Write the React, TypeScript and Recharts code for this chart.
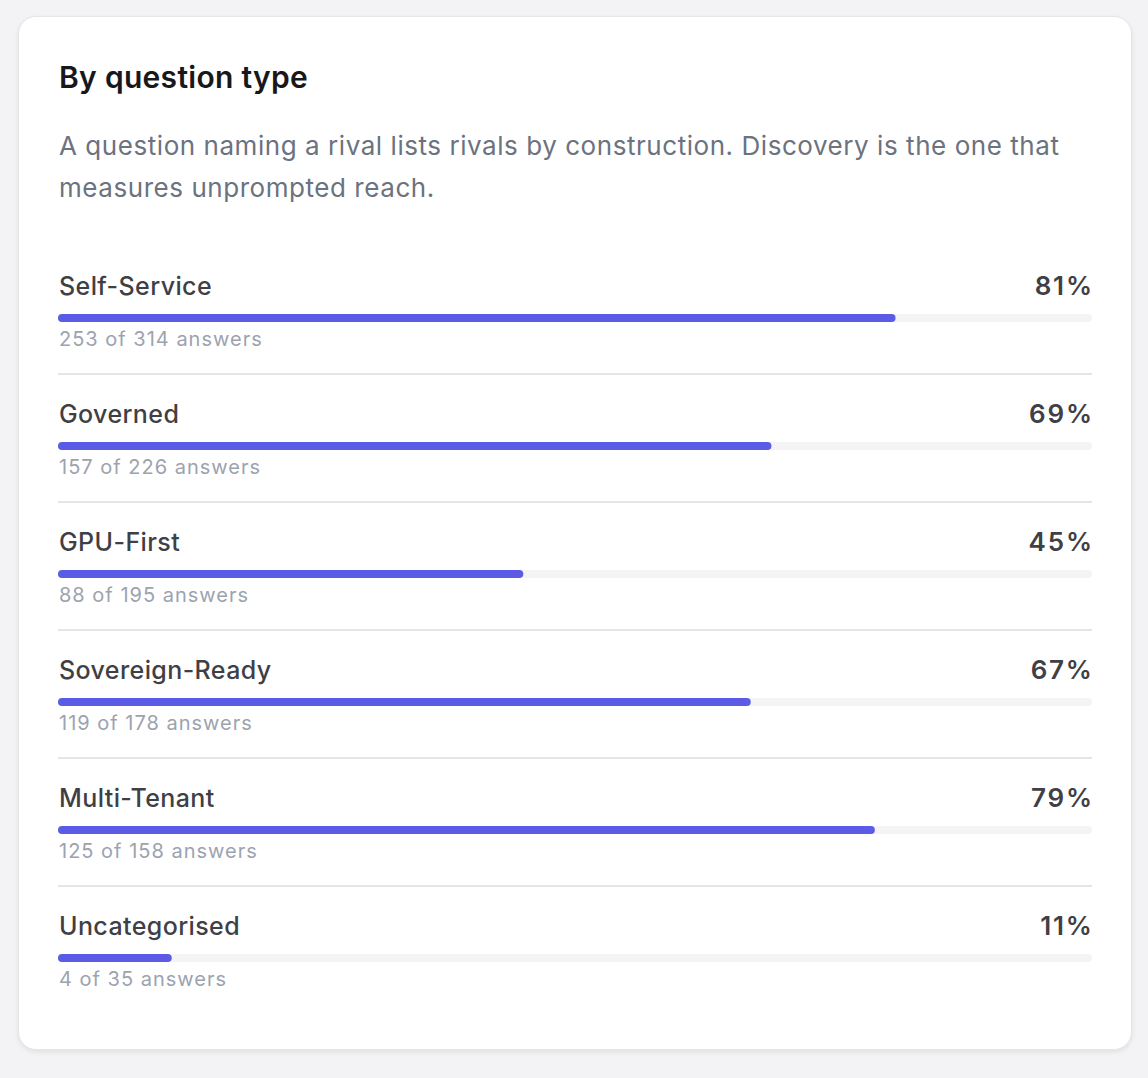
import { BarChart, Bar, XAxis, YAxis, Rectangle } from "recharts";

const categories = [
  "Self-Service",
  "Governed",
  "GPU-First",
  "Sovereign-Ready",
  "Multi-Tenant",
  "Uncategorised",
];
const answered = [253, 157, 88, 119, 125, 4];
const totals = [314, 226, 195, 178, 158, 35];
const shares = [81, 69, 45, 67, 79, 11];

const data = categories.map((name, i) => ({
  name,
  pct: shares[i],
  answered: answered[i],
  total: totals[i],
}));

const PLOT_W = 1034;
const PAD_R = 12;
const ROW_H = 128;
const FONT = "Inter, 'Noto Sans', sans-serif";

function RowShape(props: any) {
  const { x, y, width, height, index, payload, background, fill } = props;
  const cy = y + height / 2;
  const left = background ? background.x : x;
  const right = background ? background.x + background.width : x + PLOT_W;
  const last = index === data.length - 1;
  return (
    <g>
      <Rectangle x={x} y={y} width={width} height={height} radius={4} fill={fill} />
      <text
        x={left + 1}
        y={cy - 23}
        fontFamily={FONT}
        fontSize={25}
        fontWeight={500}
        letterSpacing={0.4}
        fill="#3f3f46"
      >
        {payload.name}
      </text>
      {/* trailing letter spacing pushes the end inwards, so nudge right */}
      <text
        x={right + 1.8}
        y={cy - 23}
        textAnchor="end"
        fontFamily={FONT}
        fontSize={26}
        fontWeight={600}
        letterSpacing={1.8}
        fill="#3f3f46"
      >
        {`${payload.pct}%`}
      </text>
      <text
        x={left + 1}
        y={cy + 28}
        fontFamily={FONT}
        fontSize={20}
        letterSpacing={1}
        fill="#9ca3af"
      >
        {`${payload.answered} of ${payload.total} answers`}
      </text>
      {!last && (
        <line
          x1={left}
          x2={right}
          y1={cy + 56}
          y2={cy + 56}
          stroke="#e4e4e9"
          strokeWidth={2}
        />
      )}
    </g>
  );
}

export default function App() {
  return (
    <div
      style={{
        position: "absolute",
        left: 0,
        top: 0,
        width: 1148,
        height: 1078,
        background: "#f3f3f5",
        fontFamily: FONT,
      }}
    >
      <div
        style={{
          position: "absolute",
          left: 18,
          top: 16,
          width: 1112,
          height: 1032,
          background: "#ffffff",
          borderRadius: 18,
          border: "1px solid #e6e6ea",
          boxShadow: "0 2px 5px rgba(0,0,0,0.08)",
        }}
      />
      <div
        style={{
          position: "absolute",
          left: 59,
          top: 62,
          fontSize: 30,
          lineHeight: "30px",
          fontWeight: 600,
          letterSpacing: 0.3,
          color: "#18181b",
        }}
      >
        By question type
      </div>
      <div
        style={{
          position: "absolute",
          left: 59,
          top: 125,
          width: 1034,
          fontSize: 26,
          lineHeight: "42px",
          letterSpacing: 0.55,
          color: "#6b7280",
        }}
      >
        A question naming a rival lists rivals by construction. Discovery is the
        one that measures unprompted reach.
      </div>
      <div style={{ position: "absolute", left: 58, top: 254 }}>
        <BarChart
          width={PLOT_W + PAD_R}
          height={ROW_H * data.length}
          data={data}
          layout="vertical"
          margin={{ top: 0, right: PAD_R, bottom: 0, left: 0 }}
        >
          <XAxis type="number" domain={[0, 100]} hide />
          <YAxis type="category" dataKey="name" hide />
          <Bar
            dataKey="pct"
            barSize={8}
            fill="#5b5be6"
            background={{ fill: "#f4f4f6", radius: 4 }}
            shape={RowShape}
            isAnimationActive={false}
          />
        </BarChart>
      </div>
    </div>
  );
}
